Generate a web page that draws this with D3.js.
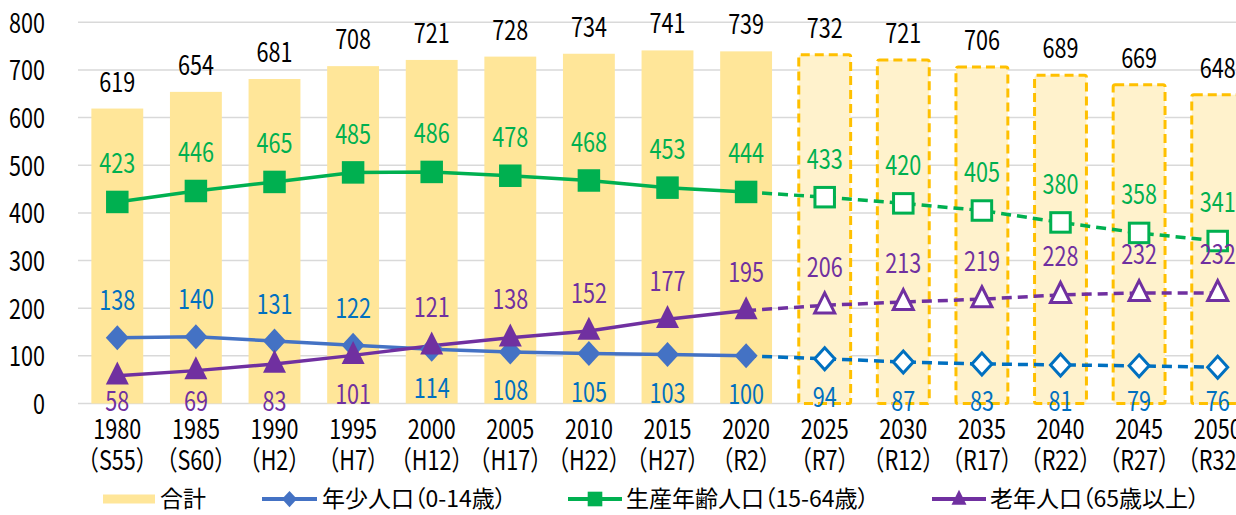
<!DOCTYPE html>
<html lang="ja">
<head>
<meta charset="utf-8">
<script src="https://cdn.jsdelivr.net/npm/d3@7"></script>
<style>
  html, body { margin: 0; padding: 0; background: #fff; overflow: hidden; }
  svg { display: block; }
  .num { font-family: "Noto Sans CJK JP", "Noto Sans", sans-serif; font-size: 27px; }
  .lg { font-family: "Noto Sans CJK JP", sans-serif; font-size: 23px; font-feature-settings: "palt"; }
</style>
</head>
<body>
<svg id="chart" width="1236" height="515"></svg>
<script>
// Population by age group (thousands), census years and projections
const years   = ["1980","1985","1990","1995","2000","2005","2010","2015","2020","2025","2030","2035","2040","2045","2050"];
const eras    = ["（S55）","（S60）","（H2）","（H7）","（H12）","（H17）","（H22）","（H27）","（R2）","（R7）","（R12）","（R17）","（R22）","（R27）","（R32）"];
const total   = [619, 654, 681, 708, 721, 728, 734, 741, 739, 732, 721, 706, 689, 669, 648];
const youth   = [138, 140, 131, 122, 114, 108, 105, 103, 100, 94, 87, 83, 81, 79, 76];
const working = [423, 446, 465, 485, 486, 478, 468, 453, 444, 433, 420, 405, 380, 358, 341];
const elderly = [58, 69, 83, 101, 121, 138, 152, 177, 195, 206, 213, 219, 228, 232, 232];
const yTicks  = [0, 100, 200, 300, 400, 500, 600, 700, 800];
const lastActualYear = "2020";
const legendLabels = ["合計", "年少人口（0-14歳）", "生産年齢人口（15-64歳）", "老年人口（65歳以上）"];

const svg = d3.select("#chart");
const SX = 0.8; // horizontal condensing of numeric labels

const x = d3.scaleBand().domain(years).range([78, 1257]).paddingInner(0.34).paddingOuter(0.17);
const y = d3.scaleLinear().domain([0, 800]).range([403.5, 22.3]);
const cx = yr => x(yr) + x.bandwidth() / 2;
const lastIdx = years.indexOf(lastActualYear);
const isProj = i => i > lastIdx;

function label(g, px, py, txt, color, anchor) {
  g.append("text")
    .attr("class", "num")
    .attr("transform", `translate(${px},${py}) scale(${SX},1)`)
    .attr("text-anchor", anchor || "middle")
    .attr("dy", "0.35em")
    .attr("fill", color)
    .text(txt);
}

// gridlines
svg.append("g").selectAll("line").data(yTicks).join("line")
  .attr("x1", 78).attr("x2", 1260)
  .attr("y1", d => y(d)).attr("y2", d => y(d))
  .attr("stroke", "#d9d9d9").attr("stroke-width", 1.5);

// y tick labels
const yl = svg.append("g");
yTicks.forEach(t => label(yl, 45, y(t) + 1, t, "#000", "end"));

// x tick labels
const xl = svg.append("g");
years.forEach((yr, i) => {
  label(xl, cx(yr), 430, yr, "#000");
  label(xl, cx(yr), 461, eras[i], "#000");
});

// total bars
const bars = svg.append("g");
years.forEach((yr, i) => {
  const r = bars.append("rect")
    .attr("x", x(yr)).attr("width", x.bandwidth())
    .attr("y", y(total[i])).attr("height", y(0) - y(total[i]));
  if (isProj(i)) {
    r.attr("fill", "#fff2cc").attr("stroke", "#ffc000").attr("stroke-width", 3)
     .attr("stroke-dasharray", "9,5").attr("rx", 2);
  } else {
    r.attr("fill", "#ffe699");
  }
});

// series lines + markers
const series = [
  { vals: youth,   solid: "#4472c4", dash: "#0070c0", text: "#0070c0", shape: "diamond" },
  { vals: working, solid: "#00b050", dash: "#00b050", text: "#00b050", shape: "square" },
  { vals: elderly, solid: "#7030a0", dash: "#7030a0", text: "#7030a0", shape: "triangle" }
];

const line = d3.line().x(d => cx(d.yr)).y(d => y(d.v));

function marker(g, shape, px, py, fill, stroke, hollow, s) {
  s = s || 1;
  if (shape === "square") {
    const w = (hollow ? 19.5 : 22.5) * s;
    g.append("rect").attr("x", px - w / 2).attr("y", py - w / 2).attr("width", w).attr("height", w)
      .attr("fill", fill).attr("stroke", hollow ? stroke : "none").attr("stroke-width", 3);
  } else if (shape === "diamond") {
    const a = (hollow ? 10 : 11.5) * s, b = (hollow ? 11 : 12.5) * s;
    g.append("path").attr("d", `M${px},${py - b}L${px + a},${py}L${px},${py + b}L${px - a},${py}Z`)
      .attr("fill", fill).attr("stroke", hollow ? stroke : "none").attr("stroke-width", 3);
  } else {
    const a = (hollow ? 10 : 11.5) * s, h = (hollow ? 20 : 23) * s;
    g.append("path").attr("d", `M${px},${py - h * 0.62}L${px + a},${py + h * 0.38}L${px - a},${py + h * 0.38}Z`)
      .attr("fill", fill).attr("stroke", hollow ? stroke : "none").attr("stroke-width", 3)
      .attr("stroke-linejoin", "miter");
  }
}

const lines = svg.append("g"), marks = svg.append("g");
series.forEach(s => {
  const pts = years.map((yr, i) => ({ yr, v: s.vals[i] }));
  lines.append("path").attr("d", line(pts.slice(0, lastIdx + 1)))
    .attr("fill", "none").attr("stroke", s.solid).attr("stroke-width", 3.5);
  lines.append("path").attr("d", line(pts.slice(lastIdx)))
    .attr("fill", "none").attr("stroke", s.dash).attr("stroke-width", 3.5)
    .attr("stroke-dasharray", "10,6");
});
series.forEach(s => {
  years.forEach((yr, i) => {
    const proj = isProj(i);
    marker(marks, s.shape, cx(yr), y(s.vals[i]), proj ? "#fff" : s.solid, s.dash, proj);
  });
});

// value labels
const lab = svg.append("g");
years.forEach((yr, i) => {
  const px = cx(yr);
  label(lab, px, y(total[i]) - 26.5, total[i], "#000");
  label(lab, px, y(working[i]) - 38, working[i], series[1].text);
  const yAbove = youth[i] > elderly[i];
  const below = v => Math.min(y(v) + 39, 402);
  label(lab, px, yAbove ? y(youth[i]) - 37 : below(youth[i]), youth[i], series[0].text);
  label(lab, px, yAbove ? below(elderly[i]) : y(elderly[i]) - 38, elderly[i], series[2].text);
});

// legend
const lg = svg.append("g");
const ly = 499;
lg.append("rect").attr("x", 103).attr("y", ly - 4.5).attr("width", 52).attr("height", 9).attr("fill", "#ffe699");
lg.append("text").attr("class", "lg").attr("x", 160).attr("y", ly).attr("dy", "0.36em").text(legendLabels[0]);
const legendItems = [
  { x0: 262, x1: 317, tx: 322 },
  { x0: 568, x1: 622, tx: 626 },
  { x0: 932, x1: 986, tx: 990 }
];
legendItems.forEach((it, k) => {
  const s = series[k];
  lg.append("line").attr("x1", it.x0).attr("x2", it.x1).attr("y1", ly).attr("y2", ly)
    .attr("stroke", s.solid).attr("stroke-width", 4);
  marker(lg, s.shape, (it.x0 + it.x1) / 2, ly, s.solid, s.solid, false, 0.65);
  lg.append("text").attr("class", "lg").attr("x", it.tx).attr("y", ly).attr("dy", "0.36em").text(legendLabels[k + 1]);
});
</script>
</body>
</html>
